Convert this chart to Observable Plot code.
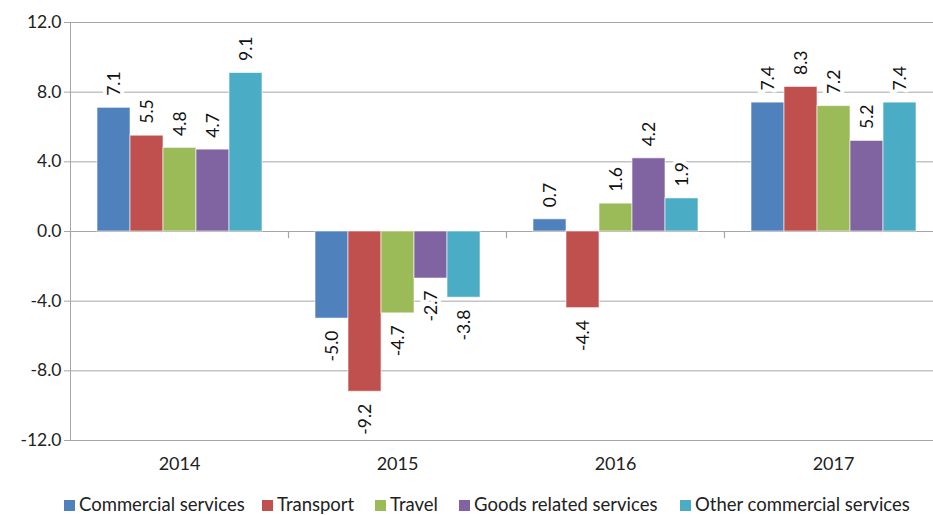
<!DOCTYPE html>
<html><head><meta charset="utf-8">
<script src="https://cdn.jsdelivr.net/npm/d3@7"></script>
<script src="https://cdn.jsdelivr.net/npm/@observablehq/plot@0.6"></script>
<style>
html,body{margin:0;padding:0;background:#fff;overflow:hidden;font-family:Lato,sans-serif}
#wrap{width:933px;height:490px;overflow:hidden}
#legend{position:relative;height:24px;margin-top:3px;font-size:18.5px;line-height:22px;color:#222;white-space:nowrap}
#legend .item{position:absolute;top:0;display:flex;align-items:center}
#legend .sw{width:11px;height:11px;margin-right:4px;margin-top:2px}
</style></head><body>
<div id="wrap"></div>
<div id="legend"></div>
<script>
const years = ["2014","2015","2016","2017"];
const series = ["Commercial services","Transport","Travel","Goods related services","Other commercial services"];
const colors = ["#4F81BD","#C0504D","#9BBB59","#8064A2","#4BACC6"];
const commercial = [7.1,-5.0,0.7,7.4];
const transport = [5.5,-9.2,-4.4,8.3];
const travel = [4.8,-4.7,1.6,7.2];
const goods = [4.7,-2.7,4.2,5.2];
const other = [9.1,-3.8,1.9,7.4];
const yTicks = [-12,-8,-4,0,4,8,12];

const values = [commercial,transport,travel,goods,other];
const data = [];
years.forEach((y,i)=>series.forEach((s,j)=>data.push({year:y, series:s, value:values[j][i]})));
const fmt = d => d.toFixed(1);

const H = 490, MT = 22, MB = 50;
const innerH = H - MT - MB;

const chart = Plot.plot({
  width: 942, height: H,
  marginLeft: 69, marginRight: 0, marginTop: MT, marginBottom: MB,
  style: {fontFamily: "Lato, sans-serif", fontSize: "17px", color: "#000", background: "#fff", maxWidth: "none"},
  fx: {domain: years, padding: 0, label: null},
  x: {domain: series, paddingInner: 0, paddingOuter: 0.76, axis: null},
  y: {domain: [-12, 12], label: null},
  color: {domain: series, range: colors},
  marks: [
    Plot.gridY(yTicks, {stroke: "#a6a6a6", strokeOpacity: 1}),
    Plot.frame({anchor: "left", stroke: "#a6a6a6", facetAnchor: "left"}),
    Plot.frame({anchor: "left", stroke: "#a6a6a6", strokeWidth: 1.2, insetTop: innerH / 2, insetBottom: innerH / 2 - 6}),
    Plot.axisY(yTicks, {tickSize: 6, tickPadding: 3, stroke: "#a6a6a6", tickFormat: fmt, label: null, fill: "#222", fontSize: 17.5}),
    Plot.axisFx({anchor: "bottom", tickSize: 0, tickPadding: 17, label: null, fill: "#222", fontSize: 18}),
    Plot.barY(data, {fx: "year", x: "series", y: "value", fill: "series", stroke: "white", strokeOpacity: 0.6, strokeWidth: 1}),
    Plot.text(data.filter(d => d.value >= 0), {fx: "year", x: "series", y: "value", text: d => fmt(d.value), rotate: -90, textAnchor: "start", lineAnchor: "middle", dy: -12, fill: "#111", stroke: "white", strokeWidth: 8, fontSize: 17.5}),
    Plot.text(data.filter(d => d.value < 0), {fx: "year", x: "series", y: "value", text: d => fmt(d.value), rotate: -90, textAnchor: "end", lineAnchor: "middle", dy: 12, fill: "#111", stroke: "white", strokeWidth: 8, fontSize: 17.5})
  ]
});
document.getElementById("wrap").appendChild(chart);

const legendX = [64, 262, 375, 459, 680];
const legend = document.getElementById("legend");
series.forEach((s, i) => {
  const item = document.createElement("div");
  item.className = "item";
  item.style.left = legendX[i] + "px";
  const sw = document.createElement("span");
  sw.className = "sw";
  sw.style.background = colors[i];
  const t = document.createElement("span");
  t.textContent = s;
  item.appendChild(sw); item.appendChild(t);
  legend.appendChild(item);
});
</script>
</body></html>
